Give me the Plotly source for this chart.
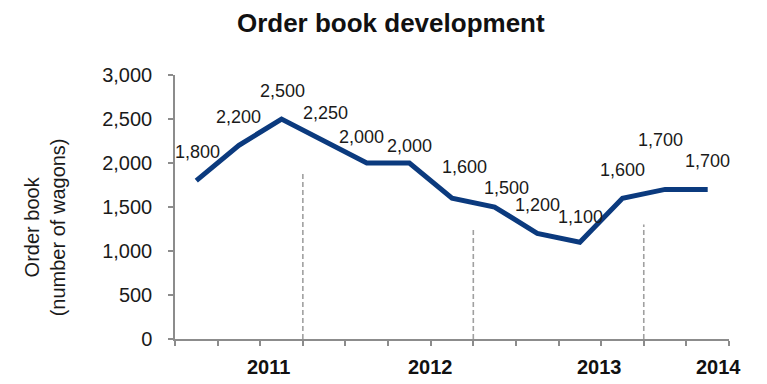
import plotly.graph_objects as go

# ---- data ----
order_book = [1800, 2200, 2500, 2250, 2000, 2000, 1600, 1500, 1200, 1100, 1600, 1700, 1700]
years = ["2011", "2012", "2013", "2014"]
year_label_x = [1.7, 5.5, 9.45, 12.25]
separator_x = [2.5, 6.5, 10.5]
separator_top = [1900, 1250, 1300]
y_ticks = [0, 500, 1000, 1500, 2000, 2500, 3000]

x_idx = list(range(len(order_book)))

# label offsets in px (dx, dy up)
label_offsets = [(1, 29), (0, 28), (1, 28), (1, 28), (-5, 26), (0, 17), (12, 31),
                 (12, 19), (0, 28), (1, 25), (0, 28), (-5, 49), (0, 28)]

FONT = "Liberation Sans, Arial, sans-serif"
NAVY = "#0B3A7E"
AXIS = "#8C8C8C"

fig = go.Figure()
fig.add_trace(go.Scatter(
    x=x_idx, y=order_book, mode="lines",
    line=dict(color=NAVY, width=5),
    hoverinfo="skip", showlegend=False,
))

shapes = []
for sx, st in zip(separator_x, separator_top):
    shapes.append(dict(type="line", xref="x", yref="y", x0=sx, x1=sx, y0=0, y1=st,
                       line=dict(color="#A0A0A0", width=1.6, dash="5px,3px"), layer="below"))

annotations = []
for i, v in enumerate(order_book):
    dx, dy = label_offsets[i]
    annotations.append(dict(x=i, y=v, xref="x", yref="y", text=f"{v:,}", showarrow=False,
                            xanchor="center", yanchor="middle", xshift=dx, yshift=dy,
                            font=dict(family=FONT, size=18, color="#1a1a1a")))
for yr, yx in zip(years, year_label_x):
    annotations.append(dict(x=yx, y=0, xref="x", yref="paper", text=f"<b>{yr}</b>", showarrow=False,
                            xanchor="center", yanchor="middle", yshift=-28,
                            font=dict(family=FONT, size=20, color="#111111")))
annotations.append(dict(x=0, y=0.423, xref="paper", yref="paper",
                        text="Order book<br>(number of wagons)", showarrow=False,
                        textangle=-90, xanchor="center", yanchor="middle", xshift=-130,
                        font=dict(family=FONT, size=20, color="#1a1a1a")))

fig.update_layout(
    width=767, height=384,
    margin=dict(l=175, r=38, t=75, b=45),
    paper_bgcolor="white", plot_bgcolor="white",
    title=dict(text="<b>Order book development</b>", x=0.5095, xanchor="center",
               y=1 - 22.5 / 384, yanchor="middle",
               font=dict(family=FONT, size=26, color="#111111")),
    xaxis=dict(range=[-0.5, len(order_book) - 0.5],
               tickvals=[i - 0.5 for i in range(len(order_book) + 1)],
               showticklabels=False, ticks="outside", ticklen=5, tickwidth=1.5, tickcolor=AXIS,
               showline=True, linecolor=AXIS, linewidth=1.5, showgrid=False, zeroline=False),
    yaxis=dict(range=[0, 3000], tickvals=y_ticks, ticktext=[f"{t:,}" for t in y_ticks],
               ticks="outside", ticklen=5, tickwidth=1.5, tickcolor=AXIS,
               showline=True, linecolor=AXIS, linewidth=1.5, showgrid=False, zeroline=False,
               tickfont=dict(family=FONT, size=20, color="#1a1a1a"), ticklabelstandoff=12),
    shapes=shapes,
    annotations=annotations,
)

fig.write_html("out.html")
